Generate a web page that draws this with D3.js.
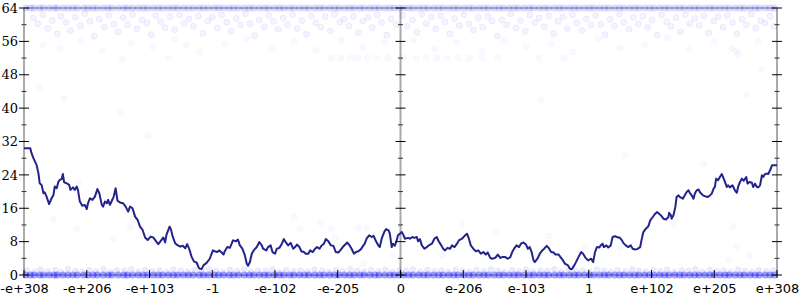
<!DOCTYPE html>
<html>
<head>
<meta charset="utf-8">
<script src="https://cdn.jsdelivr.net/npm/d3@7"></script>
<style>
  html, body { margin: 0; padding: 0; background: #fff; }
  svg { display: block; }
</style>
</head>
<body>
<svg id="chart" width="800" height="300"></svg>
<script>
// tick positions along x and their labels
const xTickPos = [-6, -5, -4, -3, -2, -1, 0, 1, 2, 3, 4, 5, 6];
const xLabels = ["-e+308", "-e+206", "-e+103", "-1", "-e-102", "-e-205", "0",
  "e-206", "e-103", "1", "e+102", "e+205", "e+308"];
const yMajor = [0, 8, 16, 24, 32, 40, 48, 56, 64];
const yMinor = [4, 12, 20, 28, 36, 44, 52, 60];

// dense rows of samples along y = 0 and y = 64
const edgeX = [-5.97, -5.9, -5.84, -5.75, -5.69, -5.6, -5.52, -5.47, -5.38, -5.3, -5.22, -5.15,
  -5.05, -4.98, -4.9, -4.83, -4.74, -4.66, -4.6, -4.5, -4.41, -4.35, -4.27, -4.18, -4.1, -4.03,
  -3.94, -3.86, -3.79, -3.7, -3.62, -3.55, -3.46, -3.38, -3.3, -3.21, -3.14, -3.06, -2.97, -2.9,
  -2.82, -2.73, -2.66, -2.58, -2.49, -2.41, -2.34, -2.25, -2.17, -2.1, -2.01, -1.93, -1.86, -1.77,
  -1.7, -1.61, -1.53, -1.46, -1.37, -1.29, -1.22, -1.13, -1.05, -0.98, -0.89, -0.81, -0.74, -0.65,
  -0.58, -0.49, -0.41, -0.34, -0.25, -0.17, -0.1, -0.02, 0.05, 0.13, 0.2, 0.29, 0.37, 0.44, 0.53,
  0.61, 0.68, 0.77, 0.85, 0.92, 1.01, 1.09, 1.16, 1.25, 1.33, 1.4, 1.49, 1.57, 1.64, 1.73, 1.81,
  1.88, 1.97, 2.05, 2.12, 2.21, 2.29, 2.36, 2.45, 2.53, 2.6, 2.69, 2.77, 2.84, 2.93, 3.01, 3.08,
  3.17, 3.25, 3.32, 3.41, 3.49, 3.56, 3.65, 3.73, 3.8, 3.89, 3.97, 4.04, 4.13, 4.21, 4.28, 4.37,
  4.45, 4.52, 4.61, 4.69, 4.76, 4.85, 4.93, 5.0, 5.09, 5.17, 5.24, 5.33, 5.41, 5.48, 5.57, 5.65,
  5.72, 5.81, 5.89, 5.96];

const bandLow = [[-5.95, 1.1], [-5.83, 0.8], [-5.74, 1.3], [-5.62, 0.9], [-5.5, 1.2], [-5.41, 0.7],
  [-5.3, 1.4], [-5.18, 1.0], [-5.07, 0.8], [-4.96, 1.2], [-4.85, 0.9], [-4.73, 1.3], [-4.62, 0.7],
  [-4.52, 1.1], [-4.4, 1.0], [-4.29, 1.4], [-4.18, 0.8], [-4.07, 1.2], [-3.95, 0.9], [-3.84, 1.1],
  [-3.73, 0.7], [-3.62, 1.3], [-3.5, 1.0], [-3.39, 0.8], [-3.28, 1.2], [-3.17, 0.9], [-3.05, 1.4],
  [-2.94, 1.0], [-2.83, 0.7], [-2.72, 1.2], [-2.6, 0.9], [-2.49, 1.3], [-2.38, 0.8], [-2.27, 1.1],
  [-2.15, 1.0], [-2.04, 1.4], [-1.93, 0.7], [-1.82, 1.2], [-1.7, 0.9], [-1.59, 1.1], [-1.48, 0.8],
  [-1.37, 1.3], [-1.25, 1.0], [-1.14, 0.7], [-1.03, 1.2], [-0.92, 0.9], [-0.8, 1.4], [-0.69, 1.0],
  [-0.58, 0.8], [-0.47, 1.2], [-0.35, 0.9], [-0.24, 1.3], [-0.13, 0.7], [-0.02, 1.1], [0.09, 1.0],
  [0.2, 1.3], [0.31, 0.8], [0.43, 1.2], [0.54, 0.9], [0.65, 1.1], [0.76, 0.7], [0.88, 1.3],
  [0.99, 1.0], [1.1, 0.8], [1.21, 1.2], [1.33, 0.9], [1.44, 1.4], [1.55, 1.0], [1.66, 0.7],
  [1.78, 1.2], [1.89, 0.9], [2.0, 1.3], [2.11, 0.8], [2.23, 1.1], [2.34, 1.0], [2.45, 1.4],
  [2.56, 0.7], [2.68, 1.2], [2.79, 0.9], [2.9, 1.1], [3.01, 0.8], [3.13, 1.3], [3.24, 1.0],
  [3.35, 0.7], [3.46, 1.2], [3.58, 0.9], [3.69, 1.4], [3.8, 1.0], [3.91, 0.8], [4.03, 1.2],
  [4.14, 0.9], [4.25, 1.3], [4.36, 0.7], [4.48, 1.1], [4.59, 1.0], [4.7, 1.4], [4.81, 0.8],
  [4.93, 1.2], [5.04, 0.9], [5.15, 1.1], [5.26, 0.7], [5.38, 1.3], [5.49, 1.0], [5.6, 0.8],
  [5.71, 1.2], [5.83, 0.9], [5.94, 1.1]];

const scatterTop = [[-5.85, 61.6], [-5.78, 60.2], [-5.7, 62.4], [-5.62, 59.1], [-5.55, 61.0],
  [-5.47, 57.8], [-5.41, 62.0], [-5.33, 60.5], [-5.26, 58.6], [-5.18, 61.8], [-5.1, 59.7],
  [-5.03, 62.6], [-4.95, 60.8], [-4.88, 57.2], [-4.8, 61.3], [-4.72, 59.4], [-4.65, 62.2],
  [-4.57, 60.1], [-4.5, 58.3], [-4.42, 61.7], [-4.35, 60.0], [-4.27, 62.5], [-4.2, 59.0],
  [-4.12, 61.2], [-4.04, 60.4], [-3.97, 57.6], [-3.9, 62.1], [-3.82, 60.7], [-3.75, 59.3],
  [-3.67, 61.9], [-3.6, 58.8], [-3.52, 62.4], [-3.45, 60.3], [-3.37, 61.4], [-3.3, 59.6],
  [-3.22, 62.0], [-3.15, 57.9], [-3.07, 60.9], [-3.0, 61.8], [-2.92, 59.2], [-2.85, 62.3],
  [-2.77, 60.6], [-2.7, 58.4], [-2.62, 61.5], [-2.55, 59.9], [-2.47, 62.6], [-2.4, 60.2],
  [-2.32, 57.4], [-2.25, 61.1], [-2.17, 59.5], [-2.1, 62.2], [-2.02, 60.8], [-1.95, 58.9],
  [-1.87, 61.6], [-1.8, 60.0], [-1.72, 62.4], [-1.65, 59.1], [-1.57, 61.0], [-1.5, 57.7],
  [-1.42, 62.1], [-1.35, 60.4], [-1.27, 59.4], [-1.2, 61.9], [-1.12, 58.5], [-1.05, 62.5],
  [-0.97, 60.6], [-0.9, 61.3], [-0.82, 59.7], [-0.75, 62.0], [-0.67, 58.1], [-0.6, 60.9],
  [-0.52, 61.7], [-0.45, 59.3], [-0.37, 62.3], [-0.3, 60.5], [-0.22, 57.5], [-0.15, 61.4],
  [-0.07, 60.1], [0.04, 62.2], [0.11, 59.6], [0.19, 61.1], [0.26, 58.2], [0.34, 62.5],
  [0.41, 60.3], [0.49, 61.8], [0.56, 59.0], [0.64, 62.1], [0.71, 60.7], [0.79, 57.8],
  [0.86, 61.5], [0.94, 59.8], [1.01, 62.4], [1.09, 60.2], [1.16, 58.7], [1.24, 61.7],
  [1.31, 59.4], [1.39, 62.0], [1.46, 60.9], [1.54, 57.3], [1.61, 61.2], [1.69, 60.0],
  [1.76, 62.6], [1.84, 59.2], [1.91, 61.0], [1.99, 58.4], [2.06, 62.3], [2.14, 60.5],
  [2.21, 61.6], [2.29, 59.5], [2.36, 62.1], [2.44, 57.9], [2.51, 60.8], [2.59, 61.9],
  [2.66, 59.1], [2.74, 62.4], [2.81, 60.4], [2.89, 58.6], [2.96, 61.4], [3.04, 59.9],
  [3.11, 62.2], [3.19, 60.1], [3.26, 57.6], [3.34, 61.3], [3.41, 59.7], [3.49, 62.5],
  [3.56, 60.6], [3.64, 58.9], [3.71, 61.8], [3.79, 60.2], [3.86, 62.0], [3.94, 59.3],
  [4.01, 61.1], [4.09, 57.5], [4.16, 62.3], [4.24, 60.7], [4.31, 59.6], [4.39, 61.7],
  [4.46, 58.3], [4.54, 62.4], [4.61, 60.3], [4.69, 61.5], [4.76, 59.8], [4.84, 62.1],
  [4.91, 58.0], [4.99, 60.9], [5.06, 61.9], [5.14, 59.4], [5.21, 62.2], [5.29, 60.5],
  [5.36, 57.8], [5.44, 61.3], [5.51, 60.0], [5.59, 62.5], [5.66, 59.2], [5.74, 61.0],
  [5.81, 60.4], [5.89, 62.0], [5.95, 59.6]];

const scatterSparse = [[-5.7, 55.1], [-5.42, 54.3], [-5.1, 56.2], [-4.75, 53.8], [-4.3, 55.6],
  [-3.95, 54.7], [-3.6, 56.5], [-3.2, 53.6], [-2.8, 55.3], [-2.45, 56.7], [-2.05, 54.1],
  [-1.7, 55.9], [-1.35, 53.9], [-0.95, 56.3], [-0.6, 54.6], [-0.25, 55.8], [0.2, 56.4],
  [0.55, 54.2], [0.9, 55.7], [1.3, 53.7], [1.65, 56.1], [2.0, 54.8], [2.4, 55.5], [2.75, 53.5],
  [3.15, 56.6], [3.5, 54.4], [3.9, 55.2], [4.25, 56.8], [4.6, 54.0], [5.0, 55.9], [5.35, 53.6],
  [5.7, 56.0],
  [-1.1, 52], [-0.95, 52], [-0.8, 52], [-0.68, 52], [-0.52, 52], [-0.38, 52], [-0.2, 52],
  [0.05, 52], [0.25, 52], [0.4, 52], [0.58, 52], [0.75, 52], [0.92, 52], [1.1, 52], [1.3, 52],
  [1.55, 52], [2.2, 52], [2.6, 52],
  [-5.75, 45], [-5.36, 42.2], [-4.44, 51.7], [-3.41, 55.1], [-3.7, 52], [-5.53, 13.3],
  [-5.16, 10.9], [-4.58, 8.7], [-4.31, 11.4], [-5.13, 21.9], [-4.46, 39], [-4.03, 33.4],
  [-1.7, 13.9], [-1.6, 11.1], [-1.28, 12.6], [-1.1, 11.1], [-1.04, 8.9], [-0.67, 11.3],
  [-0.54, 11.3], [-0.59, 2.7], [-0.11, 4.6], [0.98, 12.3], [1.53, 10.3], [0.66, 4.7],
  [2.36, 9.4], [2.94, 6.7], [3.58, 28.7], [4.83, 26.7], [5.3, 11.7], [5.36, 6.9], [5.56, 4.7],
  [5.24, 3.7], [4.35, 12.3], [3.51, 6.7], [2.23, 41.9], [5.75, 49.3], [5.52, 43.2],
  [5.38, 52.9], [5.28, 54.3]];

// the running line
const walk = [[-6, 30.4], [-5.9, 30.4], [-5.88, 29.2], [-5.85, 28.0], [-5.8, 26.4], [-5.77, 24.4],
  [-5.75, 22.0], [-5.72, 21.6], [-5.69, 19.6], [-5.67, 19.8], [-5.64, 18.8], [-5.6, 17.0],
  [-5.56, 18.4], [-5.53, 19.2], [-5.51, 21.2], [-5.48, 20.8], [-5.45, 22.4], [-5.43, 22.8],
  [-5.4, 23.0], [-5.38, 24.2], [-5.36, 22.2], [-5.32, 22.0], [-5.28, 21.6], [-5.26, 20.4],
  [-5.22, 21.0], [-5.19, 20.4], [-5.16, 21.2], [-5.14, 20.4], [-5.11, 17.6], [-5.07, 16.6],
  [-5.03, 16.8], [-5.0, 15.8], [-4.98, 17.2], [-4.95, 18.4], [-4.91, 18.0], [-4.87, 18.8],
  [-4.83, 20.6], [-4.8, 19.6], [-4.76, 16.8], [-4.74, 16.4], [-4.71, 17.6], [-4.68, 17.2],
  [-4.66, 18.0], [-4.63, 16.8], [-4.6, 17.8], [-4.57, 18.8], [-4.54, 20.8], [-4.51, 17.8],
  [-4.47, 17.4], [-4.42, 17.2], [-4.38, 16.4], [-4.34, 15.2], [-4.31, 16.4], [-4.27, 16.0],
  [-4.23, 14.0], [-4.19, 13.2], [-4.15, 11.6], [-4.11, 10.8], [-4.07, 9.0], [-4.03, 8.4],
  [-3.98, 9.2], [-3.94, 9.0], [-3.9, 8.2], [-3.86, 7.4], [-3.82, 8.2], [-3.78, 9.0], [-3.75, 7.8],
  [-3.73, 9.6], [-3.68, 11.6], [-3.66, 11.0], [-3.63, 9.2], [-3.59, 7.6], [-3.56, 7.2],
  [-3.51, 6.8], [-3.47, 7.0], [-3.43, 6.4], [-3.4, 7.4], [-3.37, 6.4], [-3.33, 4.4], [-3.29, 3.2],
  [-3.25, 3.0], [-3.21, 1.6], [-3.17, 1.4], [-3.14, 2.3], [-3.09, 2.9], [-3.04, 3.9], [-2.99, 5.9],
  [-2.96, 5.7], [-2.92, 5.5], [-2.89, 5.9], [-2.85, 5.4], [-2.82, 4.9], [-2.8, 5.7], [-2.76, 6.7],
  [-2.72, 6.5], [-2.69, 7.5], [-2.67, 8.3], [-2.62, 8.1], [-2.59, 8.5], [-2.56, 7.1], [-2.52, 6.3],
  [-2.48, 4.7], [-2.45, 2.7], [-2.43, 2.2], [-2.4, 3.1], [-2.37, 5.1], [-2.34, 5.9], [-2.29, 6.7],
  [-2.25, 7.9], [-2.21, 7.1], [-2.19, 6.3], [-2.14, 5.9], [-2.11, 6.7], [-2.07, 7.1], [-2.04, 5.5],
  [-2.0, 5.1], [-1.97, 6.3], [-1.93, 6.5], [-1.89, 7.5], [-1.86, 8.6], [-1.83, 7.9], [-1.79, 7.1],
  [-1.75, 7.7], [-1.71, 6.3], [-1.68, 6.7], [-1.65, 7.3], [-1.61, 6.7], [-1.58, 5.7], [-1.54, 5.5],
  [-1.51, 5.1], [-1.47, 5.1], [-1.44, 5.9], [-1.4, 5.5], [-1.36, 6.3], [-1.33, 6.7], [-1.29, 6.3],
  [-1.26, 7.0], [-1.22, 7.5], [-1.19, 8.6], [-1.15, 8.1], [-1.11, 7.1], [-1.07, 7.0], [-1.03, 5.5],
  [-0.99, 5.4], [-0.96, 5.9], [-0.92, 6.7], [-0.88, 7.3], [-0.85, 7.8], [-0.82, 7.3], [-0.78, 6.3],
  [-0.74, 5.1], [-0.71, 5.5], [-0.67, 5.7], [-0.63, 6.2], [-0.59, 7.1], [-0.57, 7.5], [-0.54, 8.7],
  [-0.5, 9.5], [-0.46, 9.1], [-0.43, 9.4], [-0.39, 8.1], [-0.35, 7.0], [-0.33, 6.7], [-0.3, 8.7],
  [-0.26, 10.3], [-0.23, 11.0], [-0.19, 10.7], [-0.17, 9.9], [-0.14, 6.7], [-0.12, 7.5],
  [-0.09, 7.0], [-0.06, 8.3], [-0.04, 9.5], [-0.01, 9.9], [0.02, 10.3], [0.05, 9.5], [0.07, 8.7],
  [0.12, 8.9], [0.15, 8.7], [0.19, 9.1], [0.22, 8.9], [0.26, 9.1], [0.28, 8.1], [0.31, 8.6],
  [0.34, 7.1], [0.38, 6.3], [0.42, 6.7], [0.45, 7.1], [0.5, 7.5], [0.54, 8.7], [0.58, 9.1],
  [0.6, 8.3], [0.65, 7.1], [0.68, 6.3], [0.71, 5.9], [0.75, 6.5], [0.79, 6.3], [0.82, 7.1],
  [0.86, 6.7], [0.9, 7.5], [0.93, 8.3], [0.98, 8.7], [1.03, 9.5], [1.06, 9.9], [1.09, 8.7],
  [1.12, 7.1], [1.16, 6.3], [1.2, 5.7], [1.24, 5.9], [1.28, 5.1], [1.32, 5.5], [1.36, 4.9],
  [1.39, 5.4], [1.43, 4.1], [1.46, 3.9], [1.51, 4.1], [1.55, 4.9], [1.59, 4.1], [1.62, 4.3],
  [1.67, 4.3], [1.71, 3.9], [1.75, 4.3], [1.78, 5.5], [1.81, 6.3], [1.85, 7.1], [1.89, 6.7],
  [1.92, 7.5], [1.96, 7.8], [2.0, 7.3], [2.03, 6.3], [2.06, 6.7], [2.09, 5.5], [2.12, 3.5],
  [2.14, 3.1], [2.19, 4.1], [2.22, 5.1], [2.26, 5.9], [2.29, 6.3], [2.33, 7.0], [2.37, 6.3],
  [2.4, 5.5], [2.44, 5.4], [2.47, 4.9], [2.52, 4.9], [2.55, 4.3], [2.59, 3.5], [2.62, 2.7],
  [2.67, 2.3], [2.7, 1.5], [2.73, 1.4], [2.77, 2.3], [2.81, 3.5], [2.85, 4.7], [2.88, 5.5],
  [2.91, 5.1], [2.95, 4.1], [2.99, 3.5], [3.04, 3.9], [3.07, 3.1], [3.1, 5.5], [3.13, 6.7],
  [3.17, 6.6], [3.19, 7.1], [3.22, 7.5], [3.24, 6.7], [3.28, 7.1], [3.31, 6.6], [3.35, 7.1],
  [3.38, 9.1], [3.42, 9.3], [3.46, 9.0], [3.49, 9.0], [3.53, 8.3], [3.55, 7.7], [3.59, 7.1],
  [3.63, 6.7], [3.67, 7.1], [3.7, 6.3], [3.74, 6.1], [3.77, 6.2], [3.82, 6.7], [3.84, 8.3],
  [3.87, 10.3], [3.91, 11.1], [3.95, 11.7], [3.98, 13.1], [4.02, 13.9], [4.06, 14.7], [4.09, 15.1],
  [4.12, 14.7], [4.15, 14.3], [4.19, 13.5], [4.23, 13.3], [4.27, 13.9], [4.28, 14.9], [4.31, 14.3],
  [4.32, 13.5], [4.35, 14.3], [4.38, 16.3], [4.4, 18.7], [4.43, 19.1], [4.45, 18.7], [4.5, 18.3],
  [4.53, 19.1], [4.56, 19.9], [4.59, 20.3], [4.61, 19.7], [4.64, 19.1], [4.67, 18.3], [4.69, 19.5],
  [4.72, 20.3], [4.75, 20.5], [4.77, 19.9], [4.82, 19.1], [4.85, 18.9], [4.89, 18.7], [4.92, 18.9],
  [4.96, 19.5], [4.99, 20.7], [5.01, 21.1], [5.03, 23.1], [5.06, 22.7], [5.09, 23.5], [5.12, 24.2],
  [5.14, 23.5], [5.17, 22.3], [5.2, 21.1], [5.22, 21.5], [5.25, 21.0], [5.29, 21.5], [5.33, 20.3],
  [5.36, 19.7], [5.38, 21.1], [5.41, 22.3], [5.44, 23.1], [5.47, 22.6], [5.51, 23.5], [5.53, 21.9],
  [5.56, 22.3], [5.6, 22.1], [5.62, 21.1], [5.65, 21.9], [5.68, 21.1], [5.7, 21.0], [5.73, 21.5],
  [5.76, 23.9], [5.78, 23.5], [5.81, 24.2], [5.84, 24.3], [5.86, 24.2], [5.89, 25.1], [5.92, 26.3],
  [6.0, 26.3]];

const svg = d3.select("#chart");
const margin = { top: 8, right: 23, bottom: 25, left: 24 };
const width = +svg.attr("width");
const height = +svg.attr("height");

const x = d3.scaleLinear()
  .domain([-6, 6])
  .range([margin.left, width - margin.right]);

const y = d3.scaleLinear()
  .domain([0, 64])
  .range([height - margin.bottom, margin.top]);

const axisColor = "#aaa";

// frame: top and bottom rules, three vertical axes
const frame = svg.append("g");
[0, 64].forEach(v => {
  frame.append("line")
    .attr("x1", x(-6)).attr("x2", x(6))
    .attr("y1", y(v)).attr("y2", y(v))
    .attr("stroke", axisColor)
    .attr("stroke-width", 1.5);
});
[-6, 0, 6].forEach(t => {
  frame.append("line")
    .attr("x1", x(t)).attr("x2", x(t))
    .attr("y1", y(0)).attr("y2", y(64))
    .attr("stroke", axisColor)
    .attr("stroke-width", 2);
});

// samples
const dots = svg.append("g").attr("fill", "#0000ff").attr("stroke", "#0000ff");

const drawDots = (data, r, fillOp, strokeOp) => {
  dots.append("g")
    .attr("fill-opacity", fillOp)
    .attr("stroke-opacity", strokeOp)
    .selectAll("circle")
    .data(data)
    .join("circle")
    .attr("cx", d => x(d[0]))
    .attr("cy", d => y(d[1]))
    .attr("r", r)
    .attr("stroke-width", strokeOp > 0 ? 0.7 : 0);
};

drawDots(scatterSparse, 3, 0.025, 0.045);
drawDots(scatterTop, 3, 0.045, 0.09);
drawDots(edgeX.map(t => [t, 64]), 3.5, 0.14, 0);
drawDots(bandLow, 3, 0.08, 0.05);
drawDots(edgeX.map(t => [t, 0]), 3.5, 0.36, 0);

// the line
const line = d3.line()
  .x(d => x(d[0]))
  .y(d => y(d[1]));

svg.append("path")
  .datum(walk)
  .attr("fill", "none")
  .attr("stroke", "#23238c")
  .attr("stroke-width", 2)
  .attr("stroke-linejoin", "round")
  .attr("d", line);

// tick marks crossing each vertical axis
const ticks = svg.append("g");
[-6, 0, 6].forEach(t => {
  const cx = x(t);
  ticks.selectAll(null)
    .data(yMajor)
    .join("line")
    .attr("x1", cx - 5).attr("x2", cx + 5)
    .attr("y1", d => y(d)).attr("y2", d => y(d))
    .attr("stroke", "#000")
    .attr("stroke-width", 1);
  ticks.selectAll(null)
    .data(yMinor)
    .join("line")
    .attr("x1", cx - 2.5).attr("x2", cx + 2.5)
    .attr("y1", d => y(d)).attr("y2", d => y(d))
    .attr("stroke", "#333")
    .attr("stroke-width", 1);
});

ticks.selectAll(null)
  .data(xTickPos)
  .join("line")
  .attr("x1", d => x(d)).attr("x2", d => x(d))
  .attr("y1", y(0) - 5).attr("y2", y(0) + 3)
  .attr("stroke", "#000")
  .attr("stroke-width", 1);

// labels
const yAxis = svg.append("g")
  .attr("transform", `translate(${margin.left},0)`)
  .call(d3.axisLeft(y).tickValues(yMajor).tickSize(0).tickPadding(6))
  .call(g => g.select(".domain").remove());
yAxis.selectAll("text")
  .attr("font-family", "'DejaVu Serif', serif")
  .attr("font-size", 13)
  .attr("fill", "#000");

const xAxis = svg.append("g")
  .attr("transform", `translate(0,${y(0)})`)
  .call(d3.axisBottom(x).tickValues(xTickPos).tickSize(0).tickPadding(9)
    .tickFormat((d, i) => xLabels[i]))
  .call(g => g.select(".domain").remove());
xAxis.selectAll("text")
  .attr("font-family", "'DejaVu Sans', sans-serif")
  .attr("font-size", 13)
  .attr("fill", "#000");
</script>
</body>
</html>
